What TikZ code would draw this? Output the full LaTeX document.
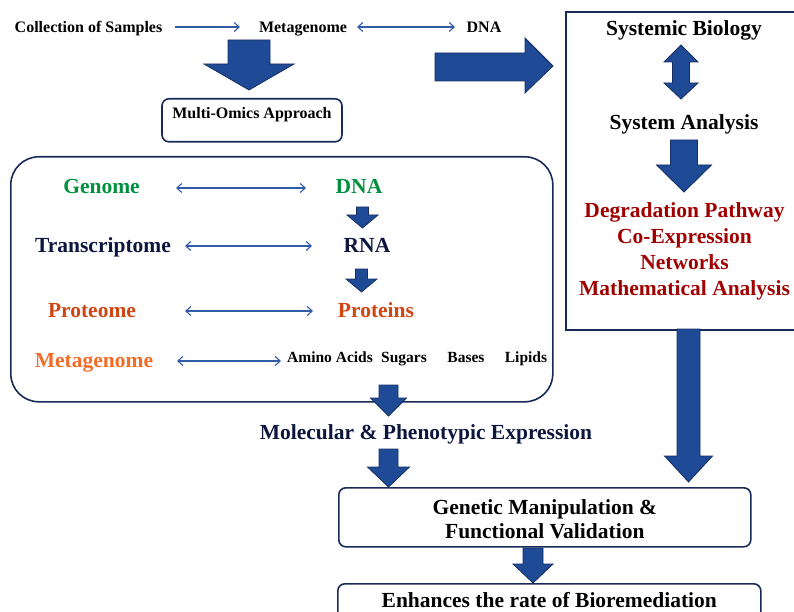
\documentclass[tikz,border=0pt]{standalone}
\usepackage{fontspec}
\setmainfont{Liberation Serif}
\usetikzlibrary{arrows.meta}
\definecolor{blkfill}{RGB}{31,74,150}
\definecolor{blkline}{RGB}{20,48,98}
\definecolor{thinblue}{RGB}{50,92,168}
\definecolor{boxline}{RGB}{24,42,88}
\definecolor{genomegreen}{RGB}{0,145,62}
\definecolor{navytext}{RGB}{12,22,62}
\definecolor{protred}{RGB}{208,70,18}
\definecolor{metaorange}{RGB}{242,108,38}
\definecolor{darkred}{RGB}{160,0,0}
\newcommand\blkdown[6]{% cx, ytop, yhead, ytip, shaft half, head half
  \filldraw[blkarrow] (#1-#5,#2) -- (#1+#5,#2) -- (#1+#5,#3) -- (#1+#6,#3) -- (#1,#4) -- (#1-#6,#3) -- (#1-#5,#3) -- cycle;}
\begin{document}
\begin{tikzpicture}[x=1pt,y=-1pt,
  every node/.style={inner sep=0pt, font=\bfseries},
  blkarrow/.style={fill=blkfill, draw=blkline, line width=0.8pt, line join=miter},
  thinarrow/.style={draw=thinblue, line width=1.1pt, -{Straight Barb[length=5pt,width=9pt]}},
  thindbl/.style={draw=thinblue, line width=1.1pt, {Straight Barb[length=5pt,width=9pt]}-{Straight Barb[length=5pt,width=9pt]}},
  smalltxt/.style={text height=1.1em, text depth=0.08em, font=\bfseries\fontsize{16}{19}\selectfont},
  bigtxt/.style={text height=1.28em, text depth=0.08em, font=\bfseries\fontsize{21.5}{26}\selectfont},
  midtxt/.style={text height=1.15em, text depth=0.08em, font=\bfseries\fontsize{15.5}{18}\selectfont},
  multitxt/.style={font=\bfseries\fontsize{21.5}{26}\selectfont, align=center},
  rbox/.style={draw=boxline, line width=1.6pt, rounded corners=7pt},
]
\useasboundingbox (0,0) rectangle (794,612);

% top row
\node[smalltxt] (coll) at (88.5,27) {Collection of Samples};
\node[smalltxt] (meta1) at (303,27) {Metagenome};
\node[smalltxt] (dna1) at (484,27) {DNA};
\draw[thinarrow] (175,0 |- coll) -- (240,0 |- meta1);
\draw[thindbl] (357,0 |- meta1) -- (455,0 |- dna1);

% big down arrow to multi-omics
\blkdown{249}{40}{64}{90}{21}{45}

% multi-omics box
\node[rbox, font=\bfseries\fontsize{16}{19}\selectfont, minimum width=180pt, text height=20pt, text depth=23pt, anchor=north] (omics) at (252,98) {Multi-Omics Approach};

% right arrow to systemic box
\filldraw[blkarrow] (435,53) -- (525,53) -- (525,38) -- (553,66) -- (525,93) -- (525,81) -- (435,81) -- cycle;

% right box
\node[draw=boxline, line width=1.6pt, minimum width=240pt, minimum height=318pt, anchor=north west] (sysbox) at (565,11) {};
\node[bigtxt] (sysbio) at (684,30) {Systemic Biology};
\node[bigtxt] (sysan) at (684,124) {System Analysis};
% double vertical arrow
\filldraw[blkarrow] (681,45) -- (698,62) -- (689.5,62) -- (689.5,83) -- (698,83) -- (681,99) -- (664,83) -- (672.5,83) -- (672.5,62) -- (664,62) -- cycle;
\blkdown{684}{140}{165}{192}{13.5}{27.5}
\node[multitxt, text=darkred] (results) at (684.5,251) {Degradation Pathway\\Co-Expression\\Networks\\Mathematical Analysis};

% long down arrow from right box
\blkdown{688.5}{329}{456}{482}{11.5}{24}

% omics container
\node[draw=boxline, line width=1.6pt, rounded corners=28pt, minimum width=542pt, minimum height=245pt, anchor=north west] (container) at (10,156) {};

\node[bigtxt, text=genomegreen] (genome) at (101.5,188) {Genome};
\node[bigtxt, text=genomegreen] (dna2) at (359,188) {DNA};
\node[bigtxt, text=navytext] (trans) at (103,246) {Transcriptome};
\node[bigtxt, text=navytext] (rna) at (367,246) {RNA};
\node[bigtxt, text=protred] (prot) at (92,311) {Proteome};
\node[bigtxt, text=protred] (proteins) at (376,311) {Proteins};
\node[bigtxt, text=metaorange] (metag) at (94,361) {Metagenome};
\node[midtxt] (amino) at (330,357) {Amino Acids};
\node[midtxt] (sugars) at (404,357) {Sugars};
\node[midtxt] (bases) at (466,357) {Bases};
\node[midtxt] (lipids) at (526,357) {Lipids};

\draw[thindbl] (176,0 |- genome) -- (306,0 |- dna2);
\draw[thindbl] (185,0 |- trans) -- (312,0 |- rna);
\draw[thindbl] (185,0 |- prot) -- (313,0 |- proteins);
\draw[thindbl] (177,0 |- metag) -- (281,0 |- metag);

\blkdown{362.5}{207}{215}{228}{6}{15.5}
\blkdown{361.5}{269}{279}{292}{6}{15.5}

% arrow out of container
\blkdown{388.5}{385}{398}{416}{9.5}{18}

\node[bigtxt, text=navytext] (molec) at (426,433) {Molecular \& Phenotypic Expression};

\blkdown{388.5}{449}{467}{487}{9.5}{21}

% genetic box
\node[rbox, multitxt, font=\bfseries\fontsize{21.5}{24}\selectfont, minimum width=412pt, minimum height=59pt, anchor=north west] (genetic) at (338,487) {\rule{0pt}{19.5pt}Genetic Manipulation \&\\Functional Validation};

\blkdown{533}{548}{564}{583}{10}{20}

% bottom box
\node[rbox, font=\bfseries\fontsize{21.5}{26}\selectfont, minimum width=423pt, text height=24pt, text depth=24pt, anchor=north west] (biorem) at (337,583) {Enhances the rate of Bioremediation};
\end{tikzpicture}
\end{document}
